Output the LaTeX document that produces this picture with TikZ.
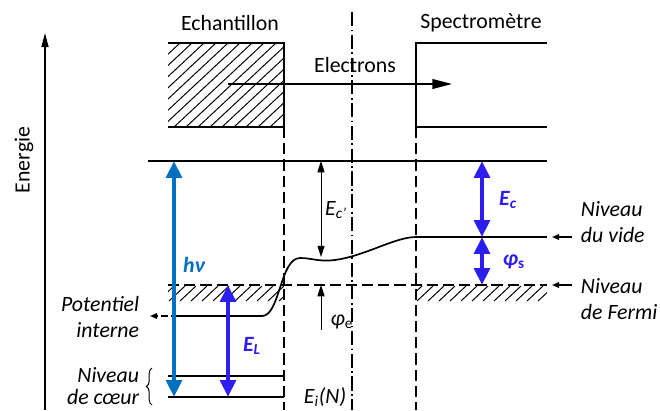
\documentclass[tikz,border=0pt]{standalone}
\usepackage{fontspec}
\setmainfont{Carlito}
\usetikzlibrary{arrows.meta,decorations.pathreplacing}
\definecolor{hnublue}{RGB}{0,112,192}
\definecolor{elviolet}{RGB}{45,30,240}
\begin{document}
\begin{tikzpicture}[x=0.025cm,y=-0.025cm,font=\fontsize{15.5}{19}\selectfont,
    thinline/.style={line width=1pt},
    dashline/.style={line width=0.9pt,dash pattern=on 8pt off 3.5pt},
    dashdotline/.style={line width=0.9pt,dash pattern=on 10pt off 2.5pt on 1.2pt off 2.5pt},
    bigarrow/.style={line width=3.4pt,{Triangle[width=11pt,length=12pt]}-{Triangle[width=11pt,length=12pt]}},
    hatchline/.style={line width=0.7pt},
    sidetext/.style={font=\fontsize{15.5}{19}\selectfont\itshape},
    bluetext/.style={font=\fontsize{15.5}{19}\selectfont\bfseries\itshape}]
    \useasboundingbox(0,0)rectangle(660,410);
    % main points
    \coordinate(axisbot)at(45,410);
    \coordinate(axistop)at(45,33);
    % energy axis
    \draw[thinline,-{Triangle[width=5pt,length=10pt]}](axisbot)--(axistop);
    \node[rotate=90]at(24,160){Energie};
    \node at(230,23){Echantillon};
    \node at(481,23){Spectromètre};
    % sample block
    \begin{scope}
        \clip(168,43)rectangle(284,127);
        \foreach \i in {0,12,...,230}
            \draw[hatchline](168+\i-90,127)--(168+\i,43);
    \end{scope}
    \draw[thinline](168,43)--(284,43)--(284,127)--(168,127);
    % spectrometer
    \draw[thinline](547,43)--(416,43)--(416,127)--(547,127);
    % electrons
    \coordinate(elstart)at(228,84);
    \coordinate(elend)at(452,84);
    \draw[thinline,-{Triangle[width=7pt,length=14pt]}](elstart)--(elend);
    \node at(355,65){Electrons};
    % separations
    \draw[dashdotline](352,12)--(352,410);
    \draw[dashline](284,127)--(284,410);
    \draw[dashline](416,127)--(416,410);
    % levels
    \coordinate(top)at(148,161);
    \draw[thinline](top)--(547,161);
    \coordinate(vac)at(416,237);
    \draw[thinline](vac)--(547,237);
    \draw[dashline](168,285)--(547,285);
    \begin{scope}
        \clip(168,286)rectangle(284,301);
        \foreach \i in {0,11,...,130}
            \draw[hatchline](168+\i-10,301)--(168+\i+6,286);
    \end{scope}
    \begin{scope}
        \clip(416,286)rectangle(547,301);
        \foreach \i in {0,11,...,150}
            \draw[hatchline](416+\i-10,301)--(416+\i+6,286);
    \end{scope}
    % internal potential curve
    \coordinate(potL)at(178,316);
    \draw[line width=1.2pt](potL)--(262,316)..controls(280,316)and(280,258)..(300,258)
        ..controls(312,258)and(318,262)..(335,260)..controls(365,256)and(395,237)..(vac);
    \draw[thinline,dash pattern=on 5pt off 2pt,-{Triangle[width=4pt,length=5pt]}](potL)--(150,316);
    \draw[thinline,-{Triangle[width=4pt,length=5pt]}](572,237)--(552,237);
    \draw[thinline,-{Triangle[width=4pt,length=5pt]}](572,285)--(552,285);
    % core levels
    \coordinate(core1)at(168,376);
    \coordinate(core2)at(168,397);
    \draw[thinline](core1)--(284,376);
    \draw[thinline](core2)--(284,397);
    \draw[line width=0.7pt,decorate,decoration={brace,amplitude=4pt}](152,405)--(152,368);
    % black arrows
    \draw[line width=0.7pt,-{Triangle[width=5pt,length=8pt]}](321,210)--(321,161);
    \draw[line width=0.7pt,-{Triangle[width=5pt,length=8pt]}](321,210)--(321,257);
    \draw[line width=0.7pt,-{Triangle[width=5pt,length=8pt]}](321,330)--(321,285);
    % coloured arrows
    \draw[bigarrow,hnublue](174,161)--(174,397);
    \draw[bigarrow,elviolet](228,285)--(228,397);
    \draw[bigarrow,elviolet](482,161)--(482,237);
    \draw[bigarrow,elviolet](482,237)--(482,285);
    % labels
    \node[hnublue,bluetext]at(194,265){hν};
    \node[elviolet,bluetext]at(252,346){E\textsubscript{L}};
    \node[elviolet,bluetext]at(508,200){E\textsubscript{c}};
    \node[elviolet,bluetext]at(514,262){φ\textsubscript{\upshape s}};
    \node at(336,210){\textit{E}\textsubscript{\textit{c'}}};
    \node at(342,322){\textit{φ}\textsubscript{e}};
    \node at(325,397){\textit{E}\textsubscript{\textit{i}}\textit{(N)}};
    \node[sidetext,align=right,anchor=east]at(144,317){Potentiel\\interne};
    \node[sidetext,align=right,anchor=east,font=\fontsize{15.5}{16}\selectfont\itshape]at(144,386){Niveau\\de cœur};
    \node[sidetext,align=left,anchor=west]at(576,222){Niveau\\du vide};
    \node[sidetext,align=left,anchor=west]at(576,299){Niveau\\de Fermi};
\end{tikzpicture}
\end{document}
